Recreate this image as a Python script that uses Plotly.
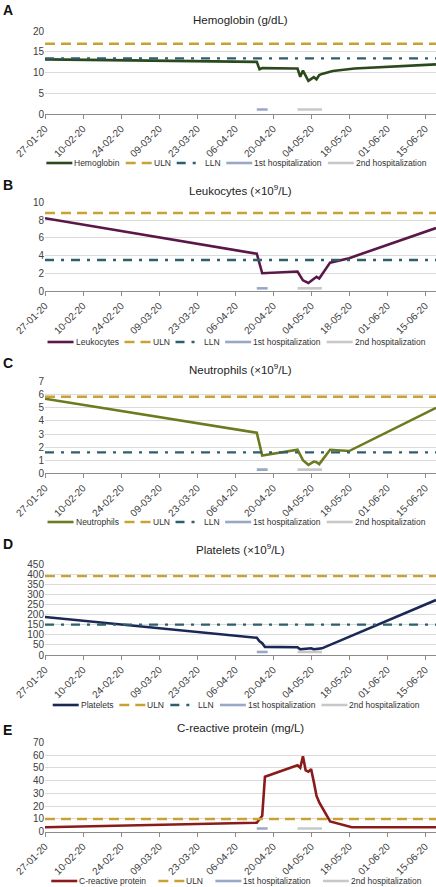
import plotly.graph_objects as go

# ---------------- data ----------------
x_start = "2020-01-27"
x_end = "2020-06-19"
hosp1_dates = ["2020-04-14", "2020-04-18"]
hosp2_dates = ["2020-04-29", "2020-05-08"]

hb_dates = ["2020-01-27", "2020-04-14", "2020-04-15", "2020-04-16", "2020-04-28", "2020-04-29",
            "2020-04-30", "2020-05-01", "2020-05-03", "2020-05-05", "2020-05-06", "2020-05-07",
            "2020-05-08", "2020-05-12", "2020-05-20", "2020-06-19"]
hb_values = [13.2, 12.6, 10.8, 11.1, 11.0, 11.0, 9.0, 10.5, 8.0, 8.9, 8.4, 9.4, 9.7, 10.4, 11.0, 12.0]

wbc_dates = ["2020-01-27", "2020-04-14", "2020-04-16", "2020-04-29", "2020-05-01", "2020-05-03",
             "2020-05-06", "2020-05-07", "2020-05-11", "2020-05-18", "2020-06-19"]
wbc_values = [8.2, 4.2, 2.0, 2.2, 1.2, 0.9, 1.6, 1.4, 3.2, 3.7, 7.1]

neu_dates = ["2020-01-27", "2020-04-14", "2020-04-16", "2020-04-29", "2020-05-01", "2020-05-03",
             "2020-05-05", "2020-05-06", "2020-05-07", "2020-05-11", "2020-05-18", "2020-06-19"]
neu_values = [5.7, 3.1, 1.35, 1.8, 1.0, 0.65, 0.9, 0.85, 0.7, 1.8, 1.7, 5.0]

plt_dates = ["2020-01-27", "2020-04-14", "2020-04-15", "2020-04-16", "2020-04-17", "2020-04-29",
             "2020-04-30", "2020-05-03", "2020-05-04", "2020-05-05", "2020-05-07", "2020-05-08",
             "2020-06-19"]
plt_values = [188, 85, 68, 58, 40, 38, 28, 30, 33, 28, 30, 33, 272]

crp_dates = ["2020-01-27", "2020-04-14", "2020-04-16", "2020-04-17", "2020-04-29", "2020-04-30",
             "2020-05-01", "2020-05-02", "2020-05-03", "2020-05-04", "2020-05-05", "2020-05-06",
             "2020-05-07", "2020-05-11", "2020-05-19", "2020-06-19"]
crp_values = [3.5, 7.0, 12.5, 43, 52, 50, 59, 48, 47, 49, 39, 28, 23, 8, 3.5, 3.5]

panel_letters = ["A", "B", "C", "D", "E"]
panel_titles = ["Hemoglobin (g/dL)", "Leukocytes (×10<sup>9</sup>/L)", "Neutrophils (×10<sup>9</sup>/L)",
                "Platelets (×10<sup>9</sup>/L)", "C-reactive protein (mg/L)"]
series_names = ["Hemoglobin", "Leukocytes", "Neutrophils", "Platelets", "C-reactive protein"]
series_dates = [hb_dates, wbc_dates, neu_dates, plt_dates, crp_dates]
series_values = [hb_values, wbc_values, neu_values, plt_values, crp_values]
uln_values = [17, 8.8, 5.85, 390, 10]
lln_values = [13.45, 3.5, 1.6, 150, None]
hosp_levels = [1.1, 0.3, 0.28, 15, 2.5]
y_max = [20, 10, 7, 450, 70]
y_dtick = [5, 2, 1, 50, 10]

# ---------------- styles ----------------
series_colors = ["#2A4A1D", "#5B1747", "#6C7B1E", "#1B2856", "#8A1B1B"]
ULN_COLOR = "#C9A233"
LLN_COLOR = "#2D5F6C"
H1_COLOR = "#9AA8C8"
H2_COLOR = "#C8C8C8"
FONT = "Liberation Sans, Arial, sans-serif"
ULN_DASH = "10px,6px"
LLN_DASH = "9px,7px,3px,7px"

W, H = 436, 887
ML = 45
PW = W - ML
# pixel positions of plot areas (top, bottom), titles, letters, legends
plot_px = [(31.3, 114), (202.3, 291), (381.7, 473.3), (564, 655), (742.3, 831.7)]
title_px = [20, 190, 369, 549, 728]
letter_px = [10, 185, 363, 544, 730]
legend_px = [163, 342, 522, 705, 881]
legend_gap = [6, 6, 6, 6, 12]
LEG_FONT = 8.5
KEY_W = 26
LEGEND_CENTER = 236.3

# Helvetica/Arial advance widths (per 1000 em) for legend text measuring
AFM = {" ": 278, "-": 333, "(": 333, ")": 333, "/": 278, "A": 667, "C": 722, "E": 667, "H": 722,
       "L": 556, "N": 722, "P": 667, "U": 722, "a": 556, "b": 556, "c": 500, "d": 556, "e": 556,
       "g": 556, "h": 556, "i": 222, "k": 500, "l": 222, "m": 833, "n": 556, "o": 556, "p": 556,
       "r": 333, "s": 500, "t": 278, "u": 556, "v": 500, "y": 500, "z": 500}


def text_w(s, size):
    return sum(AFM.get(c, 556) for c in s) * size / 1000.0


def px2x(px):
    return (px - ML) / PW


def px2y(py):
    return 1 - py / H


fig = go.Figure()
annotations = []
shapes = []
for i in range(5):
    n = i + 1
    xa = "x" if n == 1 else f"x{n}"
    ya = "y" if n == 1 else f"y{n}"
    entries = []  # (name, color, dash)
    fig.add_trace(go.Scatter(x=series_dates[i], y=series_values[i], mode="lines",
                             name=series_names[i], line=dict(color=series_colors[i], width=2.6),
                             xaxis=xa, yaxis=ya, showlegend=False))
    entries.append((series_names[i], series_colors[i], "solid"))
    fig.add_trace(go.Scatter(x=[x_start, x_end], y=[uln_values[i]] * 2, mode="lines", name="ULN",
                             line=dict(color=ULN_COLOR, width=2.4, dash=ULN_DASH),
                             xaxis=xa, yaxis=ya, showlegend=False))
    entries.append(("ULN", ULN_COLOR, ULN_DASH))
    if lln_values[i] is not None:
        fig.add_trace(go.Scatter(x=[x_start, x_end], y=[lln_values[i]] * 2, mode="lines", name="LLN",
                                 line=dict(color=LLN_COLOR, width=2.4, dash=LLN_DASH),
                                 xaxis=xa, yaxis=ya, showlegend=False))
        entries.append(("LLN", LLN_COLOR, LLN_DASH))
    fig.add_trace(go.Scatter(x=hosp1_dates, y=[hosp_levels[i]] * 2, mode="lines",
                             name="1st hospitalization", line=dict(color=H1_COLOR, width=2.6),
                             xaxis=xa, yaxis=ya, showlegend=False))
    entries.append(("1st hospitalization", H1_COLOR, "solid"))
    fig.add_trace(go.Scatter(x=hosp2_dates, y=[hosp_levels[i]] * 2, mode="lines",
                             name="2nd hospitalization", line=dict(color=H2_COLOR, width=2.6),
                             xaxis=xa, yaxis=ya, showlegend=False))
    entries.append(("2nd hospitalization", H2_COLOR, "solid"))

    top, bot = plot_px[i]
    dom = [1 - bot / H, 1 - top / H]
    xkey = "xaxis" if n == 1 else f"xaxis{n}"
    ykey = "yaxis" if n == 1 else f"yaxis{n}"
    fig.update_layout({
        xkey: dict(domain=[0, 1], anchor=ya, type="date", range=[x_start, x_end],
                   tick0=x_start, dtick=14 * 86400000, tickformat="%d-%m-%y", tickangle=-45,
                   ticks="outside", ticklen=4, tickcolor="#8c8c8c", showline=True,
                   linecolor="#8c8c8c", linewidth=1, showgrid=False, zeroline=False,
                   tickfont=dict(size=10, color="#404040", family=FONT)),
        ykey: dict(domain=dom, anchor=xa, range=[0, y_max[i]], dtick=y_dtick[i], tick0=0,
                   showgrid=True, gridcolor="#dadada", gridwidth=1, zeroline=False,
                   showline=False, ticks="", tickfont=dict(size=10, color="#404040", family=FONT)),
    })
    annotations.append(dict(text=panel_titles[i], xref="paper", x=0.5, xanchor="center",
                            yref="paper", y=px2y(title_px[i]), yanchor="middle", showarrow=False,
                            font=dict(size=11.5, color="#222222", family=FONT)))
    annotations.append(dict(text="<b>" + panel_letters[i] + "</b>", xref="paper", x=px2x(1),
                            xanchor="left", yref="paper", y=px2y(letter_px[i]), yanchor="middle",
                            showarrow=False, font=dict(size=14, color="#111111", family=FONT)))

    # custom legend row (keys + labels), centred under the panel
    gap = legend_gap[i]
    total = sum(KEY_W + 2 + text_w(e[0], LEG_FONT) for e in entries) + gap * (len(entries) - 1)
    cur = LEGEND_CENTER - total / 2
    ly = px2y(legend_px[i])
    for name, color, dash in entries:
        shapes.append(dict(type="line", xref="paper", yref="paper", x0=px2x(cur), x1=px2x(cur + KEY_W),
                           y0=ly, y1=ly, line=dict(color=color, width=2.6, dash=dash)))
        annotations.append(dict(text=name, xref="paper", yref="paper", x=px2x(cur + KEY_W + 1),
                                xanchor="left", y=ly, yanchor="middle", showarrow=False,
                                xshift=-1, font=dict(size=LEG_FONT, color="#303030", family=FONT)))
        cur += KEY_W + 2 + text_w(name, LEG_FONT) + gap

fig.update_layout(width=W, height=H, margin=dict(l=ML, r=0, t=0, b=0, autoexpand=False),
                  paper_bgcolor="white", plot_bgcolor="white", annotations=annotations,
                  shapes=shapes, showlegend=False, font=dict(family=FONT), hovermode=False)

fig.write_html("out.html", config={"displayModeBar": False, "staticPlot": True},
               post_script="document.body.style.margin='0';document.body.style.padding='0';"
                           "document.body.style.overflow='hidden';")
